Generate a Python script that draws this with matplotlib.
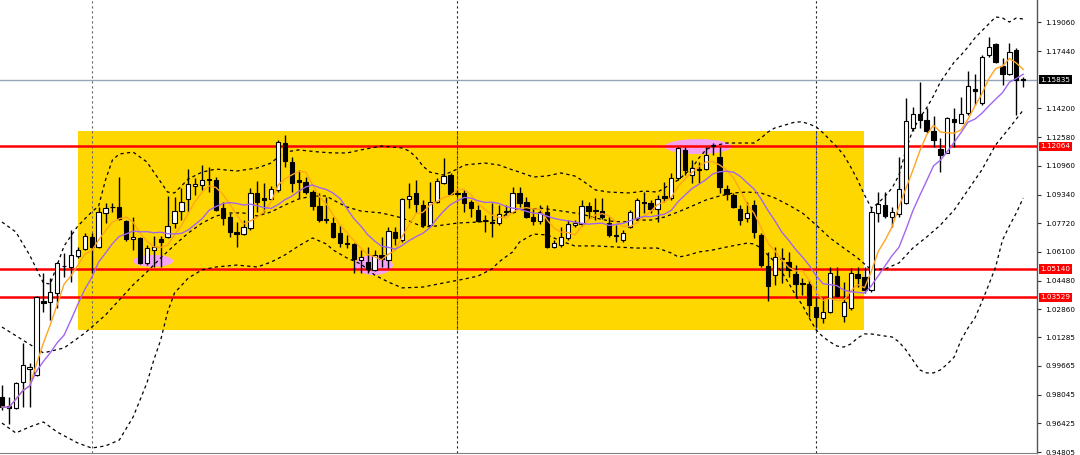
import matplotlib
matplotlib.use("Agg")
import matplotlib.pyplot as plt
import matplotlib.transforms as mtransforms
from matplotlib.patches import Rectangle, Ellipse
import numpy as np
import pandas as pd

# ---------------- data (prices) ----------------
opens = [0.9791, 0.9740, 0.9729, 0.9876, 0.9949, 0.9915, 1.0333, 1.0327, 1.0378, 1.0531,
         1.0525, 1.0587, 1.0627, 1.0694, 1.0638, 1.0830, 1.0864, 1.0864, 1.0785, 1.0683,
         1.0689, 1.0548, 1.0621, 1.0683, 1.0694, 1.0773, 1.0841, 1.0909, 1.0982, 1.0988,
         1.1022, 1.1016, 1.0858, 1.0807, 1.0723, 1.0711, 1.0745, 1.0943, 1.0912, 1.0909,
         1.0960, 1.1225, 1.1118, 1.1016, 1.1005, 1.0948, 1.0869, 1.0796, 1.0773, 1.0717,
         1.0660, 1.0655, 1.0565, 1.0553, 1.0509, 1.0593, 1.0565, 1.0723, 1.0677, 1.0909,
         1.0943, 1.0875, 1.0762, 1.0892, 1.0999, 1.1044, 1.0943, 1.0943, 1.0892, 1.0847,
         1.0790, 1.0779, 1.0773, 1.0836, 1.0836, 1.0943, 1.0892, 1.0807, 1.0785, 1.0836,
         1.0638, 1.0649, 1.0689, 1.0762, 1.0768, 1.0869, 1.0847, 1.0841, 1.0773, 1.0706,
         1.0677, 1.0751, 1.0802, 1.0892, 1.0886, 1.0852, 1.0926, 1.0915, 1.1028, 1.1186,
         1.1044, 1.1078, 1.1078, 1.1209, 1.1146, 1.0965, 1.0932, 1.0852, 1.0802, 1.0875,
         1.0706, 1.0531, 1.0480, 1.0576, 1.0553, 1.0486, 1.0435, 1.0429, 1.0299, 1.0237,
         1.0271, 1.0474, 1.0248, 1.0294, 1.0486, 1.0469, 1.0395, 1.0830, 1.0875, 1.0807,
         1.0824, 1.0886, 1.1310, 1.1389, 1.1355, 1.1293, 1.1192, 1.1169, 1.1361, 1.1338,
         1.1395, 1.1530, 1.1451, 1.1722, 1.1784, 1.1660, 1.1615, 1.1750, 1.1587]
highs = [0.9859, 0.9791, 0.9876, 1.0096, 0.9983, 1.0362, 1.0491, 1.0463, 1.0553, 1.0604,
         1.0734, 1.0638, 1.0717, 1.0717, 1.0864, 1.0886, 1.0886, 1.1033, 1.0790, 1.0807,
         1.0694, 1.0649, 1.0700, 1.0700, 1.0926, 1.0920, 1.0971, 1.1078, 1.1028, 1.1101,
         1.1090, 1.1033, 1.0892, 1.0830, 1.0779, 1.0790, 1.0971, 1.1011, 1.0999, 1.0982,
         1.1242, 1.1270, 1.1146, 1.1073, 1.1033, 1.0960, 1.0943, 1.0920, 1.0807, 1.0762,
         1.0706, 1.0660, 1.0621, 1.0638, 1.0621, 1.0694, 1.0751, 1.0751, 1.0915, 1.0999,
         1.1016, 1.0903, 1.1005, 1.1028, 1.1140, 1.1056, 1.0960, 1.0960, 1.0903, 1.0875,
         1.0819, 1.0886, 1.0875, 1.0875, 1.0977, 1.0977, 1.0920, 1.0858, 1.0875, 1.0875,
         1.0677, 1.0751, 1.0790, 1.0790, 1.0903, 1.0892, 1.0915, 1.0915, 1.0807, 1.0762,
         1.0734, 1.0847, 1.0915, 1.0948, 1.0903, 1.0932, 1.1005, 1.1056, 1.1203, 1.1203,
         1.1129, 1.1118, 1.1203, 1.1225, 1.1203, 1.0988, 1.0943, 1.0875, 1.0892, 1.0903,
         1.0717, 1.0610, 1.0638, 1.0632, 1.0610, 1.0536, 1.0463, 1.0452, 1.0356, 1.0350,
         1.0525, 1.0525, 1.0440, 1.0520, 1.0525, 1.0525, 1.0864, 1.0948, 1.0948, 1.0864,
         1.1146, 1.1479, 1.1428, 1.1570, 1.1423, 1.1378, 1.1254, 1.1372, 1.1423, 1.1485,
         1.1632, 1.1615, 1.1722, 1.1824, 1.1790, 1.1705, 1.1790, 1.1761, 1.1598]
lows = [0.9718, 0.9639, 0.9723, 0.9735, 0.9735, 0.9910, 1.0271, 1.0226, 1.0294, 1.0469,
        1.0440, 1.0576, 1.0621, 1.0491, 1.0635, 1.0773, 1.0836, 1.0790, 1.0672, 1.0621,
        1.0542, 1.0536, 1.0525, 1.0525, 1.0689, 1.0745, 1.0790, 1.0836, 1.0932, 1.0960,
        1.0948, 1.0841, 1.0762, 1.0694, 1.0638, 1.0706, 1.0734, 1.0836, 1.0836, 1.0903,
        1.0948, 1.1090, 1.0948, 1.0915, 1.0937, 1.0847, 1.0779, 1.0773, 1.0689, 1.0638,
        1.0632, 1.0491, 1.0491, 1.0491, 1.0503, 1.0525, 1.0520, 1.0649, 1.0666, 1.0858,
        1.0836, 1.0751, 1.0751, 1.0886, 1.0994, 1.0932, 1.0926, 1.0836, 1.0807, 1.0779,
        1.0723, 1.0694, 1.0762, 1.0819, 1.0830, 1.0864, 1.0802, 1.0762, 1.0768, 1.0632,
        1.0632, 1.0638, 1.0677, 1.0751, 1.0757, 1.0796, 1.0790, 1.0796, 1.0694, 1.0666,
        1.0666, 1.0745, 1.0790, 1.0830, 1.0830, 1.0779, 1.0892, 1.0903, 1.1016, 1.1044,
        1.0999, 1.0999, 1.1073, 1.1157, 1.0943, 1.0903, 1.0858, 1.0762, 1.0779, 1.0689,
        1.0525, 1.0333, 1.0424, 1.0435, 1.0469, 1.0350, 1.0367, 1.0243, 1.0186, 1.0209,
        1.0265, 1.0356, 1.0215, 1.0282, 1.0412, 1.0378, 1.0384, 1.0779, 1.0802, 1.0751,
        1.0807, 1.0881, 1.1293, 1.1310, 1.1282, 1.1203, 1.1061, 1.1169, 1.1203, 1.1338,
        1.1383, 1.1440, 1.1440, 1.1711, 1.1677, 1.1553, 1.1609, 1.1383, 1.1542]
closes = [0.9735, 0.9729, 0.9870, 0.9972, 0.9960, 1.0356, 1.0322, 1.0384, 1.0548, 1.0530,
          1.0593, 1.0621, 1.0700, 1.0638, 1.0836, 1.0858, 1.0861, 1.0796, 1.0683, 1.0694,
          1.0548, 1.0632, 1.0638, 1.0666, 1.0757, 1.0841, 1.0892, 1.0994, 1.0994, 1.1016,
          1.1019, 1.0847, 1.0802, 1.0723, 1.0711, 1.0751, 1.0943, 1.0892, 1.0906, 1.0965,
          1.1231, 1.1124, 1.0999, 1.1005, 1.0948, 1.0869, 1.0790, 1.0793, 1.0694, 1.0660,
          1.0655, 1.0570, 1.0582, 1.0514, 1.0593, 1.0570, 1.0728, 1.0689, 1.0909, 1.0926,
          1.0881, 1.0762, 1.0892, 1.1011, 1.1039, 1.0937, 1.0940, 1.0886, 1.0858, 1.0785,
          1.0785, 1.0776, 1.0824, 1.0841, 1.0943, 1.0886, 1.0807, 1.0785, 1.0836, 1.0638,
          1.0660, 1.0694, 1.0768, 1.0773, 1.0869, 1.0841, 1.0841, 1.0807, 1.0706, 1.0700,
          1.0717, 1.0836, 1.0903, 1.0886, 1.0852, 1.0909, 1.0915, 1.1028, 1.1197, 1.1073,
          1.1084, 1.1075, 1.1157, 1.1214, 1.0977, 1.0937, 1.0864, 1.0790, 1.0830, 1.0723,
          1.0536, 1.0418, 1.0582, 1.0573, 1.0509, 1.0429, 1.0429, 1.0310, 1.0243, 1.0271,
          1.0491, 1.0361, 1.0327, 1.0491, 1.0463, 1.0395, 1.0836, 1.0881, 1.0813, 1.0836,
          1.0965, 1.1349, 1.1389, 1.1355, 1.1293, 1.1242, 1.1157, 1.1366, 1.1344, 1.1389,
          1.1547, 1.1519, 1.1711, 1.1767, 1.1682, 1.1615, 1.1739, 1.1581, 1.1583]

# Bollinger bands (candle index, price)
bb_upper_idx = [0, 2, 4, 6, 7, 9, 11, 13, 14, 15, 16, 17, 19, 21, 22, 23, 24, 25, 27, 29,
                31, 34, 37, 39, 40, 41, 43, 46, 48, 50, 52, 55, 58, 59, 60, 61, 62, 64, 65, 66,
                67, 70, 72, 74, 75, 77, 79, 81, 83, 84, 85, 86, 88, 91, 93, 95, 96, 97, 98, 99,
                100, 101, 102, 103, 105, 107, 109, 110, 111, 112, 113, 115, 116, 117, 118, 119,
                120, 121, 122, 123, 124, 125, 126, 127, 128, 129, 130, 131, 132, 133, 134, 135,
                136, 137, 138, 139, 140, 141, 142, 143, 144, 145, 146, 147, 148]
bb_upper = [1.0779, 1.0723, 1.0593, 1.0435, 1.0429, 1.0644, 1.0757, 1.0836, 1.0869, 1.1016,
            1.1129, 1.1163, 1.1174, 1.1118, 1.1061, 1.1005, 1.0948, 1.0943, 1.1022, 1.1061,
            1.1078, 1.1067, 1.1084, 1.1112, 1.1146, 1.1174, 1.1186, 1.1174, 1.1169, 1.1169,
            1.1186, 1.1208, 1.1197, 1.1180, 1.1146, 1.1095, 1.1061, 1.1044, 1.1061, 1.1078,
            1.1101, 1.1112, 1.1101, 1.1073, 1.1061, 1.1033, 1.1039, 1.1056, 1.1039, 1.1016,
            1.0988, 1.0960, 1.0948, 1.0943, 1.0954, 1.0948, 1.0971, 1.0994, 1.1016, 1.1050,
            1.1084, 1.1140, 1.1186, 1.1208, 1.1225, 1.1225, 1.1225, 1.1253, 1.1287, 1.1310,
            1.1321, 1.1344, 1.1344, 1.1332, 1.1316, 1.1282, 1.1242, 1.1203, 1.1157, 1.1090,
            1.1016, 1.0932, 1.0858, 1.0886, 1.0926, 1.0971, 1.1044, 1.1186, 1.1299, 1.1366,
            1.1423, 1.1491, 1.1570, 1.1626, 1.1682, 1.1722, 1.1767, 1.1818, 1.1858, 1.1897,
            1.1937, 1.1931, 1.1908, 1.1931, 1.1925]
bb_mid_idx = [0, 3, 6, 9, 12, 15, 17, 19, 21, 23, 25, 27, 29, 31, 33, 35, 37, 39, 41, 43,
              45, 47, 48, 50, 52, 55, 58, 61, 63, 66, 69, 72, 74, 76, 78, 80, 82, 84, 86, 88,
              90, 92, 94, 96, 98, 100, 102, 104, 106, 108, 110, 112, 114, 116, 118, 120, 122,
              124, 125, 126, 128, 130, 132, 134, 136, 138, 140, 142, 144, 146, 148]
bb_mid = [1.0186, 1.0113, 1.0040, 1.0068, 1.0152, 1.0254, 1.0339, 1.0424, 1.0497, 1.0576,
          1.0649, 1.0717, 1.0773, 1.0813, 1.0830, 1.0830, 1.0813, 1.0836, 1.0875, 1.0909,
          1.0926, 1.0926, 1.0903, 1.0864, 1.0841, 1.0830, 1.0802, 1.0751, 1.0757, 1.0773,
          1.0779, 1.0790, 1.0852, 1.0847, 1.0858, 1.0847, 1.0836, 1.0824, 1.0802, 1.0785,
          1.0779, 1.0790, 1.0790, 1.0807, 1.0836, 1.0869, 1.0903, 1.0926, 1.0943, 1.0948,
          1.0943, 1.0915, 1.0875, 1.0830, 1.0762, 1.0689, 1.0632, 1.0576, 1.0542, 1.0509,
          1.0514, 1.0548, 1.0632, 1.0694, 1.0762, 1.0847, 1.0960, 1.1073, 1.1214, 1.1310,
          1.1411]
bb_lower_idx = [0, 2, 4, 6, 8, 11, 13, 15, 17, 19, 21, 22, 23, 24, 25, 27, 29, 31, 34, 37,
                39, 41, 43, 45, 47, 48, 50, 52, 54, 56, 58, 61, 64, 67, 69, 71, 72, 73, 74, 75,
                77, 79, 81, 83, 86, 89, 92, 95, 97, 98, 99, 101, 103, 105, 108, 109, 110, 111,
                112, 113, 114, 115, 116, 117, 118, 119, 120, 121, 122, 123, 124, 125, 126, 127,
                128, 129, 130, 131, 132, 133, 134, 135, 136, 137, 138, 139, 140, 141, 142, 143,
                144, 145, 146, 147, 148]
bb_lower = [0.9644, 0.9588, 0.9622, 0.9650, 0.9593, 0.9531, 0.9503, 0.9515, 0.9548, 0.9678,
            0.9870, 1.0000, 1.0113, 1.0271, 1.0378, 1.0463, 1.0509, 1.0525, 1.0536, 1.0525,
            1.0553, 1.0593, 1.0644, 1.0689, 1.0655, 1.0621, 1.0576, 1.0542, 1.0480, 1.0440,
            1.0407, 1.0412, 1.0435, 1.0457, 1.0474, 1.0514, 1.0553, 1.0582, 1.0610, 1.0666,
            1.0711, 1.0706, 1.0672, 1.0644, 1.0644, 1.0638, 1.0632, 1.0632, 1.0604, 1.0582,
            1.0587, 1.0610, 1.0621, 1.0638, 1.0660, 1.0655, 1.0632, 1.0593, 1.0553, 1.0497,
            1.0435, 1.0367, 1.0310, 1.0237, 1.0169, 1.0130, 1.0102, 1.0079, 1.0073, 1.0090,
            1.0124, 1.0147, 1.0147, 1.0141, 1.0135, 1.0130, 1.0102, 1.0057, 1.0000, 0.9944,
            0.9927, 0.9927, 0.9944, 0.9977, 1.0017, 1.0113, 1.0181, 1.0237, 1.0327, 1.0424,
            1.0525, 1.0677, 1.0757, 1.0830, 1.0915]

ytick_values = [1.19060, 1.17440, 1.14200, 1.12580, 1.10960, 1.09340, 1.07720, 1.06100,
                1.04480, 1.02860, 1.01285, 0.99665, 0.98045, 0.96425, 0.94805]
ytick_labels = ["1.19060", "1.17440", "1.14200", "1.12580", "1.10960", "1.09340", "1.07720",
                "1.06100", "1.04480", "1.02860", "1.01285", "0.99665", "0.98045", "0.96425",
                "0.94805"]
red_levels = [1.12064, 1.05140, 1.03529]
red_labels = ["1.12064", "1.05140", "1.03529"]
current_price = 1.15835
current_label = "1.15835"
separator_idx = [13, 66, 118]

# annotation geometry (range box and highlight ellipses)
zone_x0, zone_x1, zone_low, zone_high = 11.0, 124.9, 1.0169, 1.1293
ellipse_cx = [21.9, 53.9, 100.9]
ellipse_cy = [1.0559, 1.0536, 1.1205]
ellipse_w = [5.8, 5.5, 9.7]
ellipse_h = [0.0068, 0.0113, 0.0085]

# ---------------- figure ----------------
W, H = 1080, 455
fig = plt.figure(figsize=(W / 100, H / 100), dpi=100)
fig.patch.set_facecolor("white")
ax = fig.add_axes([0, 2 / H, 1037 / W, 453 / H])
ax.set_facecolor("white")

n = len(closes)
x = np.arange(n)
o = np.array(opens); h = np.array(highs); l = np.array(lows); c = np.array(closes)

ax.set_xlim(-0.29, 150.0)
ax.set_ylim(0.94749, 1.20325)

# range box
ax.add_patch(Rectangle((zone_x0, zone_low), zone_x1 - zone_x0, zone_high - zone_low,
                       facecolor="#FFD700", edgecolor="none", zorder=1))

# pink highlight ellipses
for cx, cy, ew, eh in zip(ellipse_cx, ellipse_cy, ellipse_w, ellipse_h):
    ax.add_patch(Ellipse((cx, cy), ew, eh, facecolor="#F4A3F2", edgecolor="none", zorder=2))

# period separators
for si in separator_idx:
    col = "#666666" if si == separator_idx[0] else "#222222"
    ax.axvline(si, color=col, lw=0.8, ls=(0, (2, 2.5)), zorder=2)
    if si != separator_idx[0]:
        ax.plot([si, si], [zone_low, zone_high], color="#2A4BFF", lw=0.8,
                ls=(0, (2, 2.5)), zorder=2.1)

# horizontal levels
for lv in red_levels:
    ax.axhline(lv, color="#FF0000", lw=1.8, zorder=3)
ax.axhline(current_price, color="#95A5B8", lw=1.0, zorder=3)

# Bollinger bands
dash = (0, (2.6, 2.6))
ax.plot(bb_upper_idx, bb_upper, color="black", lw=0.9, ls=dash, zorder=4)
ax.plot(bb_mid_idx, bb_mid, color="black", lw=0.9, ls=dash, zorder=4)
ax.plot(bb_lower_idx, bb_lower, color="black", lw=0.9, ls=dash, zorder=4)

# candles
ax.vlines(x, l, h, color="black", lw=1.0, zorder=5)
up = c >= o
body_w = 0.62
ax.bar(x[up], np.maximum(c[up] - o[up], 0.00015), bottom=o[up], width=body_w,
       facecolor="white", edgecolor="black", linewidth=0.8, zorder=6)
ax.bar(x[~up], np.maximum(o[~up] - c[~up], 0.00015), bottom=c[~up], width=body_w,
       facecolor="black", edgecolor="black", linewidth=0.8, zorder=6)

# moving averages of close
cs = pd.Series(closes)
ax.plot(x, cs.rolling(5, min_periods=1).mean(), color="#FFA520", lw=1.0, zorder=7)
ax.plot(x, cs.rolling(10, min_periods=1).mean(), color="#A066F0", lw=1.0, zorder=7)

# axes styling
for s in ["left", "top"]:
    ax.spines[s].set_visible(False)
ax.spines["right"].set_color("#555555")
ax.spines["bottom"].set_color("#808080")
ax.spines["right"].set_linewidth(1.0)
ax.set_xticks([])
ax.yaxis.tick_right()
ax.set_yticks(ytick_values)
ax.set_yticklabels(ytick_labels)
ax.tick_params(axis="y", direction="out", length=3, width=0.8, pad=3,
               labelsize=5.2, colors="#333333", labelcolor="black")

trans = mtransforms.blended_transform_factory(ax.transAxes, ax.transData)
for lv, lab in zip(red_levels, red_labels):
    ax.text(1.0035, lv, lab, transform=trans, ha="left", va="center", fontsize=5.2,
            color="white", clip_on=False, zorder=10,
            bbox=dict(boxstyle="square,pad=0.25", facecolor="#FF0000", edgecolor="none"))
ax.text(1.0035, current_price, current_label, transform=trans, ha="left", va="center",
        fontsize=5.2, color="white", clip_on=False, zorder=10,
        bbox=dict(boxstyle="square,pad=0.25", facecolor="black", edgecolor="none"))

fig.savefig("out.png", dpi=100, facecolor="white")
